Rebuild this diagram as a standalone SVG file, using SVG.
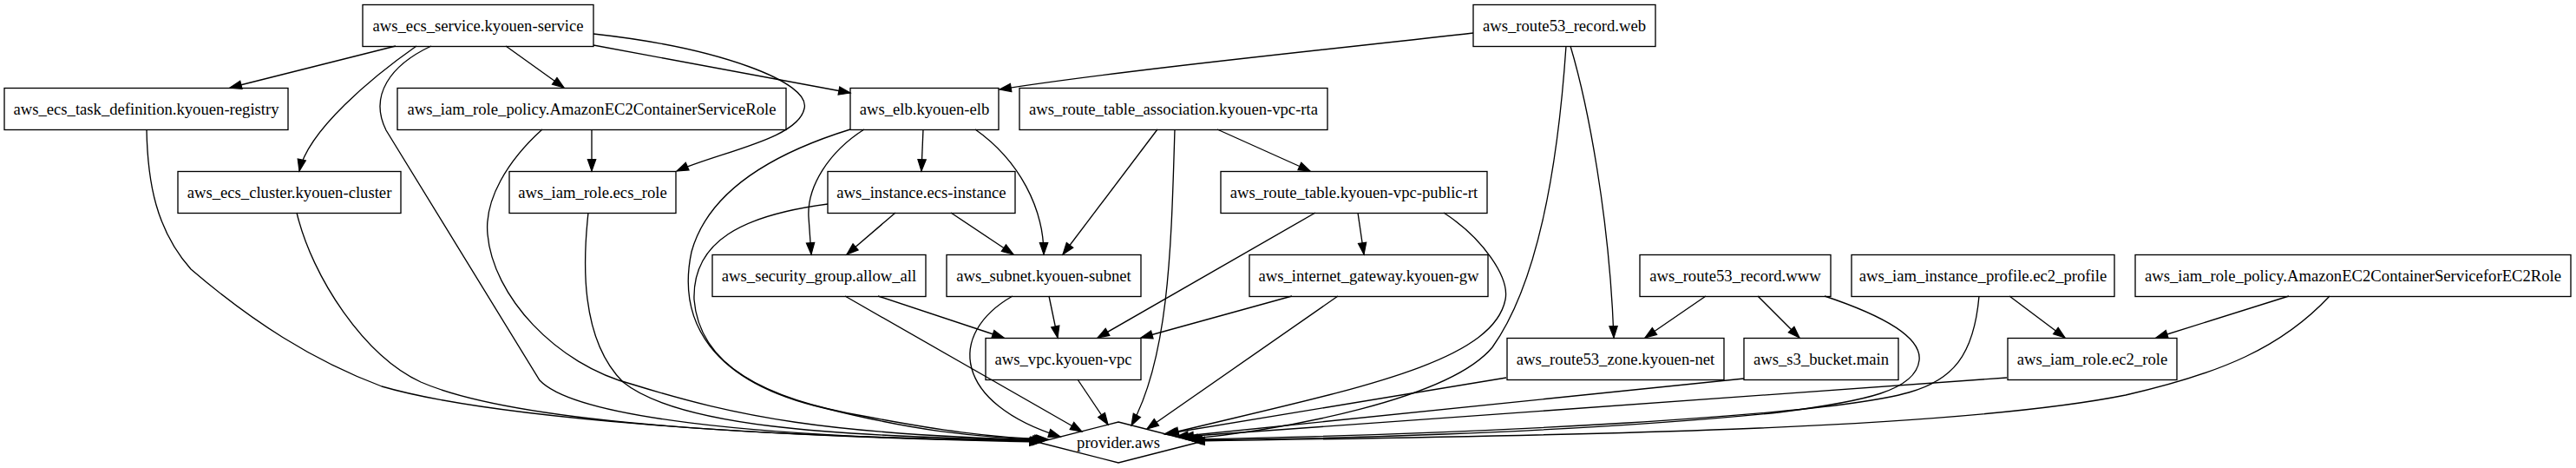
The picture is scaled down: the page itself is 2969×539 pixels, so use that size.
<svg xmlns="http://www.w3.org/2000/svg" width="2969" height="539" viewBox="0 0 2969 539">
<style>
.node rect, .node polygon { fill: none; stroke: #000; stroke-width: 1.33; }
.node text { font-family: "Liberation Serif", "Times New Roman", serif; font-size: 18.67px; text-anchor: middle; fill: #000; }
.edges path { fill: none; stroke: #000; stroke-width: 1.33; marker-end: url(#arrow); }
</style>
<defs>
<marker id="arrow" markerUnits="userSpaceOnUse" markerWidth="16" markerHeight="12" viewBox="-1 -1 16 12" refX="13.3" refY="4.67" orient="auto" overflow="visible">
<path d="M0,0 L13.3,4.67 L0,9.33 z" fill="#000" stroke="#000" stroke-width="1.2"/>
</marker>
</defs>
<rect x="0" y="0" width="2969" height="539" fill="#fff"/>
<g class="edges">
<path d="M456,53 L265,101"/>
<path d="M480,53 C430,88 355,150 345,197"/>
<path d="M497,53 C450,75 425,110 445,150 L622,438 C660,478 850,505 1203,508"/>
<path d="M583,53 L650,101"/>
<path d="M684,52 L980,107"/>
<path d="M684,39 C830,55 935,95 927,125 C920,160 830,175 780,197"/>
<path d="M169,149 C170,210 180,265 220,310 C290,370 360,415 440,445 C560,480 850,503 1200,509"/>
<path d="M342,245 C360,320 420,410 485,440 C600,490 900,503 1201,508"/>
<path d="M625,149 C585,185 558,230 562,270 C568,340 640,420 730,443 C850,480 950,500 1204,507"/>
<path d="M682,149 L682,197"/>
<path d="M678,245 C672,300 668,390 718,440 C780,490 950,503 1205,507"/>
<path d="M1064,149 L1062,197"/>
<path d="M996,149 C955,175 930,215 932,250 L935,293"/>
<path d="M980,149 C880,180 815,225 797,290 C780,370 820,440 950,470 C1050,495 1120,504 1206,506"/>
<path d="M954,235 C855,248 798,278 800,345 C806,420 880,460 1000,480 C1080,495 1140,504 1208,506"/>
<path d="M1032,245 L976,293"/>
<path d="M1096,245 L1168,293"/>
<path d="M1124,149 C1175,185 1203,240 1203,293"/>
<path d="M1334,149 L1225,293"/>
<path d="M1403,149 L1510,197"/>
<path d="M1354,149 C1350,280 1348,410 1304,490"/>
<path d="M1698,38 C1550,55 1300,80 1152,103"/>
<path d="M1810,53 C1830,120 1855,250 1860,389"/>
<path d="M1805,53 C1795,200 1770,330 1720,400 C1670,460 1480,495 1367,506"/>
<path d="M1516,245 L1265,389"/>
<path d="M1565,245 L1572,293"/>
<path d="M1664,245 C1710,275 1740,320 1735,345 C1720,420 1550,450 1345,500"/>
<path d="M1489,341 L1315,389"/>
<path d="M1542,341 L1322,494"/>
<path d="M1012,341 L1157,389"/>
<path d="M974,341 L1247,497"/>
<path d="M1209,341 L1219,389"/>
<path d="M1167,341 C1090,385 1100,465 1222,503"/>
<path d="M1242,437 L1277,489"/>
<path d="M1966,341 L1896,389"/>
<path d="M2026,341 L2074,389"/>
<path d="M2103,341 C2175,365 2215,390 2212,415 C2208,450 2150,462 2050,475 C1800,500 1500,506 1372,507"/>
<path d="M2316,341 L2380,389"/>
<path d="M2281,341 C2275,410 2250,438 2200,452 C2100,480 1700,500 1370,506"/>
<path d="M2638,341 L2485,389"/>
<path d="M2685,341 C2630,400 2560,430 2450,455 C2250,495 1800,502 1375,508"/>
<path d="M1736,435 L1342,500"/>
<path d="M2010,436 L1356,503"/>
<path d="M2313,435 L1362,503"/>
</g>
<g id="aws_ecs_service" class="node"><rect x="418" y="5.5" width="266" height="48"/><text x="551" y="36">aws_ecs_service.kyouen-service</text></g>
<g id="aws_route53_record_web" class="node"><rect x="1698" y="5.5" width="210" height="48"/><text x="1803" y="36">aws_route53_record.web</text></g>
<g id="aws_ecs_task_definition" class="node"><rect x="5" y="101.5" width="327" height="48"/><text x="168.5" y="132">aws_ecs_task_definition.kyouen-registry</text></g>
<g id="aws_iam_role_policy_ecs" class="node"><rect x="458" y="101.5" width="448" height="48"/><text x="682" y="132">aws_iam_role_policy.AmazonEC2ContainerServiceRole</text></g>
<g id="aws_elb" class="node"><rect x="980" y="101.5" width="171" height="48"/><text x="1065.5" y="132">aws_elb.kyouen-elb</text></g>
<g id="aws_route_table_association" class="node"><rect x="1175" y="101.5" width="355" height="48"/><text x="1352.5" y="132">aws_route_table_association.kyouen-vpc-rta</text></g>
<g id="aws_ecs_cluster" class="node"><rect x="205" y="197.5" width="257" height="48"/><text x="333.5" y="228">aws_ecs_cluster.kyouen-cluster</text></g>
<g id="aws_iam_role_ecs_role" class="node"><rect x="587" y="197.5" width="192" height="48"/><text x="683" y="228">aws_iam_role.ecs_role</text></g>
<g id="aws_instance" class="node"><rect x="954" y="197.5" width="216" height="48"/><text x="1062" y="228">aws_instance.ecs-instance</text></g>
<g id="aws_route_table" class="node"><rect x="1407" y="197.5" width="307" height="48"/><text x="1560.5" y="228">aws_route_table.kyouen-vpc-public-rt</text></g>
<g id="aws_security_group" class="node"><rect x="821" y="293.5" width="246" height="48"/><text x="944" y="324">aws_security_group.allow_all</text></g>
<g id="aws_subnet" class="node"><rect x="1091" y="293.5" width="224" height="48"/><text x="1203" y="324">aws_subnet.kyouen-subnet</text></g>
<g id="aws_internet_gateway" class="node"><rect x="1440" y="293.5" width="275" height="48"/><text x="1577.5" y="324">aws_internet_gateway.kyouen-gw</text></g>
<g id="aws_route53_record_www" class="node"><rect x="1890" y="293.5" width="220" height="48"/><text x="2000" y="324">aws_route53_record.www</text></g>
<g id="aws_iam_instance_profile" class="node"><rect x="2134" y="293.5" width="303" height="48"/><text x="2285.5" y="324">aws_iam_instance_profile.ec2_profile</text></g>
<g id="aws_iam_role_policy_ec2" class="node"><rect x="2461" y="293.5" width="502" height="48"/><text x="2712" y="324">aws_iam_role_policy.AmazonEC2ContainerServiceforEC2Role</text></g>
<g id="aws_vpc" class="node"><rect x="1136" y="389.5" width="179" height="48"/><text x="1225.5" y="420">aws_vpc.kyouen-vpc</text></g>
<g id="aws_route53_zone" class="node"><rect x="1737" y="389.5" width="250" height="48"/><text x="1862" y="420">aws_route53_zone.kyouen-net</text></g>
<g id="aws_s3_bucket" class="node"><rect x="2010" y="389.5" width="178" height="48"/><text x="2099" y="420">aws_s3_bucket.main</text></g>
<g id="aws_iam_role_ec2_role" class="node"><rect x="2314" y="389.5" width="195" height="48"/><text x="2411.5" y="420">aws_iam_role.ec2_role</text></g>
<g id="provider_aws" class="node"><polygon points="1289,486 1381,509.5 1289,533 1197,509.5"/><text x="1289" y="516">provider.aws</text></g>
</svg>
